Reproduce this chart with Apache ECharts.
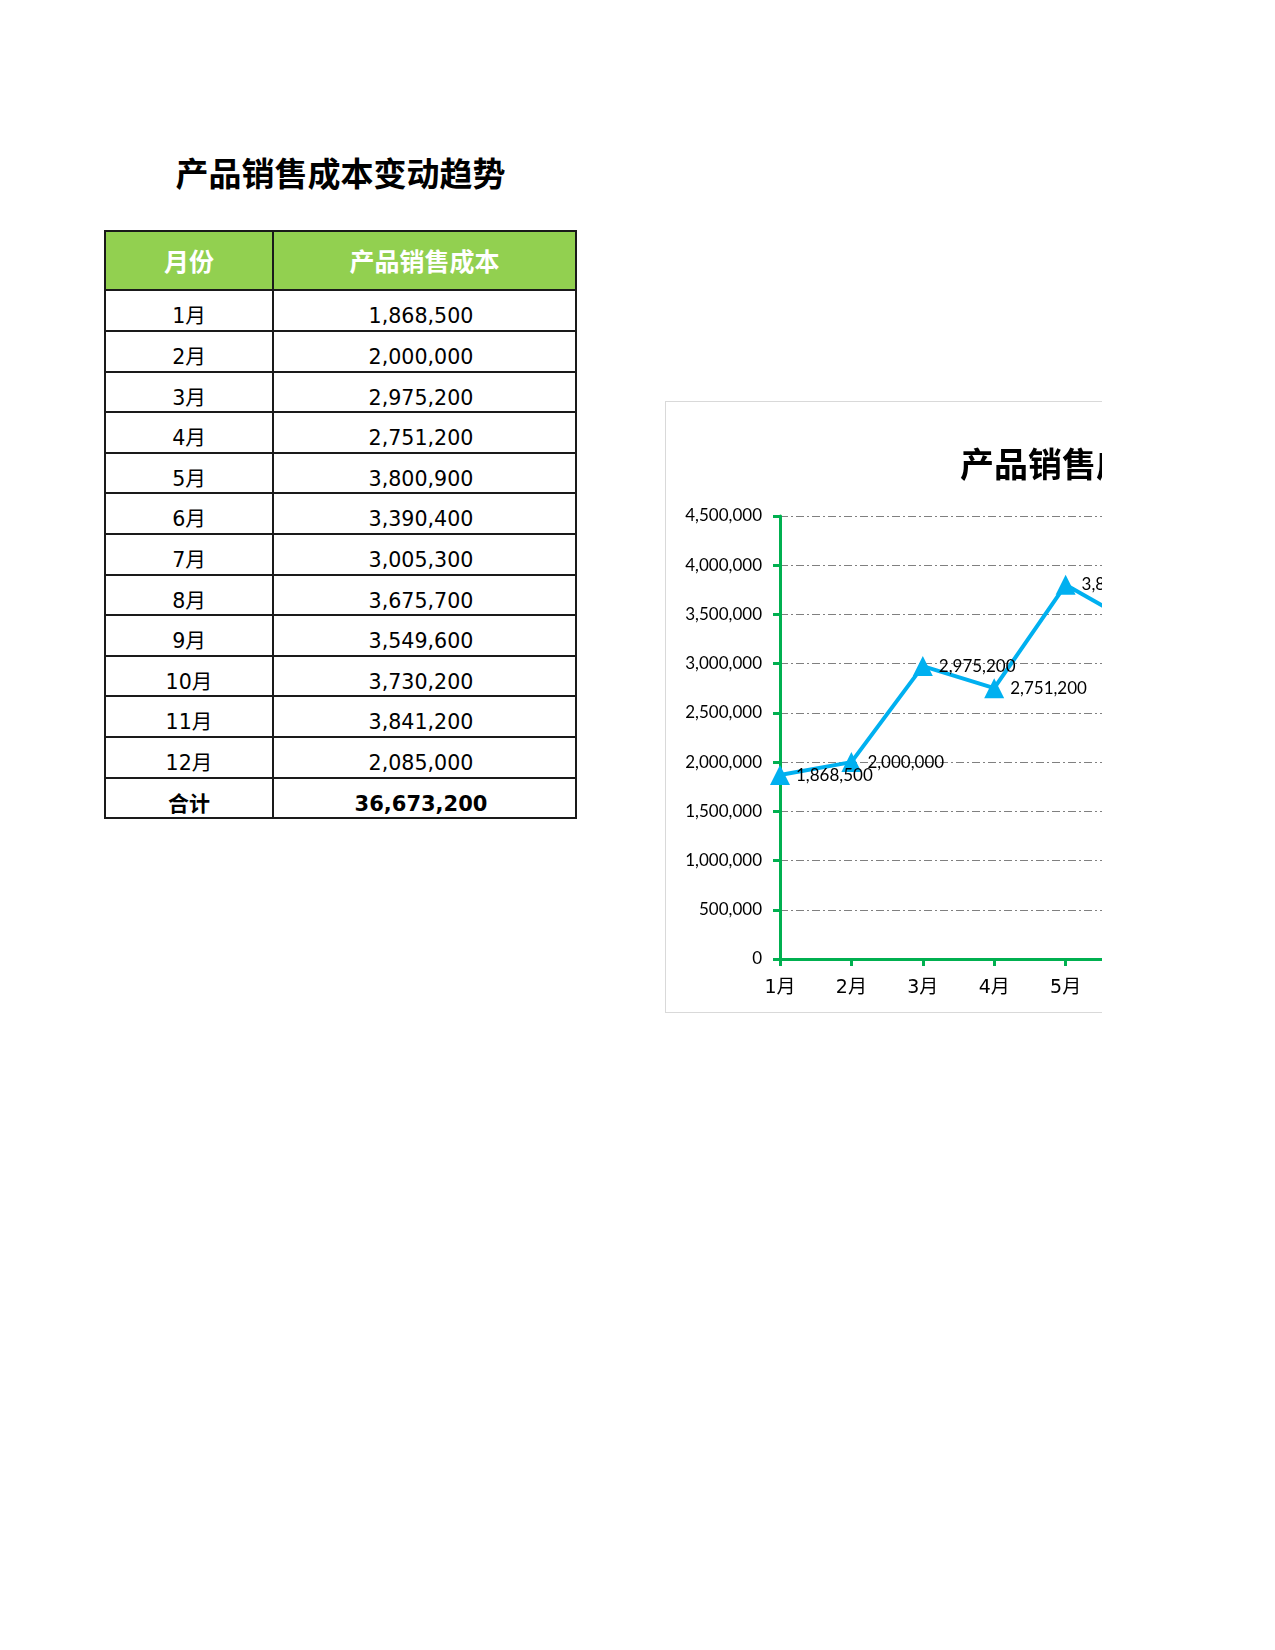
<!DOCTYPE html>
<html>
<head>
<meta charset="utf-8">
<script src="https://cdn.jsdelivr.net/npm/echarts@6/dist/echarts.min.js"></script>
<style>
  html, body { margin:0; padding:0; background:#fff; width:1275px; height:1650px; overflow:hidden; }
  #page { position:relative; width:1275px; height:1650px; }
  #title { position:absolute; left:105px; width:471px; top:149px; height:46px; line-height:46px; text-align:center;
           font-family:"Noto Sans CJK SC", sans-serif; font-weight:bold; font-size:33px; color:#000; }
  .cell { position:absolute; text-align:center; font-family:"DejaVu Sans","Noto Sans CJK SC",sans-serif; font-size:20.6px; color:#000; box-sizing:border-box; }
  .hdr { font-family:"Noto Sans CJK SC",sans-serif; font-weight:bold; font-size:25px; color:#fff; }
  .hl { position:absolute; background:#1a1a1a; }
  #chartWrap { position:absolute; left:665px; top:401px; width:436px; height:610px; overflow:hidden;
               border-left:1px solid #d9d9d9; border-top:1px solid #d9d9d9; border-bottom:1px solid #d9d9d9; }
  #chart { position:absolute; left:0; top:0; width:928px; height:610px; }
</style>
</head>
<body>
<div id="page">
  <div id="title">产品销售成本变动趋势</div>
  <div id="table"></div>
  <div id="chartWrap"><div id="chart"></div></div>
</div>
<script>
const months = ['1月','2月','3月','4月','5月','6月','7月','8月','9月','10月','11月','12月'];
const costs = [1868500, 2000000, 2975200, 2751200, 3800900, 3390400, 3005300, 3675700, 3549600, 3730200, 3841200, 2085000];
const headers = ['月份', '产品销售成本'];
const totalLabel = '合计';
const yTicks = [0, 500000, 1000000, 1500000, 2000000, 2500000, 3000000, 3500000, 4000000, 4500000];
const chartTitle = '产品销售成本变动趋势';

function fmt(v) { return String(v).replace(/\B(?=(\d{3})+(?!\d))/g, ','); }

// ---- table ----
(function buildTable() {
  const t = document.getElementById('table');
  const L = 105, M = 273, R = 576;
  const top = 231, hdrH = 59.3, rowH = 40.6;
  const rows = months.map((m, i) => [m, fmt(costs[i])]);
  const total = costs.reduce((a, b) => a + b, 0);
  rows.push([totalLabel, fmt(total)]);
  const bottom = top + hdrH + rows.length * rowH;
  const bg = document.createElement('div');
  bg.style.cssText = `position:absolute;left:${L}px;top:${top}px;width:${R-L}px;height:${hdrH}px;background:#92D050;`;
  t.appendChild(bg);
  [[L, M], [M, R]].forEach((c, j) => {
    const d = document.createElement('div');
    d.className = 'cell hdr';
    d.style.cssText += `left:${c[0]}px;width:${c[1]-c[0]}px;top:${top}px;height:${hdrH}px;line-height:${hdrH}px;`;
    d.textContent = headers[j];
    t.appendChild(d);
  });
  rows.forEach((r, i) => {
    const y = top + hdrH + i * rowH;
    [[L, M], [M, R]].forEach((c, j) => {
      const d = document.createElement('div');
      d.className = 'cell';
      d.style.cssText += `left:${c[0]}px;width:${c[1]-c[0]}px;top:${y + 6}px;height:${rowH}px;line-height:${rowH}px;` +
        (j === 1 ? 'padding-right:7px;' : '') +
        (i === rows.length - 1 ? 'font-weight:bold;font-size:21px;' : '');
      d.textContent = r[j];
      t.appendChild(d);
    });
  });
  const lw = 2;
  function hline(y) { const d = document.createElement('div'); d.className='hl';
    d.style.cssText += `left:${L-1}px;top:${y-1}px;width:${R-L+2}px;height:${lw}px;`; t.appendChild(d); }
  function vline(x) { const d = document.createElement('div'); d.className='hl';
    d.style.cssText += `left:${x-1}px;top:${top-1}px;width:${lw}px;height:${bottom-top+2}px;`; t.appendChild(d); }
  hline(top); hline(top + hdrH);
  for (let i = 1; i <= rows.length; i++) hline(top + hdrH + i * rowH);
  vline(L); vline(M); vline(R);
})();

// ---- chart ----
const chart = echarts.init(document.getElementById('chart'), null, { renderer: 'canvas' });
const green = '#00B050';
chart.setOption({
  animation: false,
  backgroundColor: '#fff',
  title: {
    text: chartTitle, left: 'center', top: 40,
    textStyle: { fontFamily: '"Noto Sans CJK SC", sans-serif', fontWeight: 'bold', fontSize: 34, color: '#000' }
  },
  grid: { left: 114, top: 114, right: 28.6, bottom: 53 },
  xAxis: {
    type: 'category', data: months, boundaryGap: false,
    axisLine: { lineStyle: { color: green, width: 3 } },
    axisTick: { show: true, length: 7, lineStyle: { color: green, width: 3 } },
    axisLabel: { margin: 20, fontSize: 19, color: '#000', fontFamily: '"DejaVu Sans","Noto Sans CJK SC",sans-serif' },
    splitLine: { show: false }
  },
  yAxis: {
    type: 'value', min: yTicks[0], max: yTicks[yTicks.length - 1], interval: yTicks[1] - yTicks[0],
    axisLine: { show: true, lineStyle: { color: green, width: 3 } },
    axisTick: { show: true, length: 7, lineStyle: { color: green, width: 3 } },
    axisLabel: { margin: 18, fontSize: 17, color: '#000', fontFamily: 'Lato, sans-serif', formatter: v => fmt(v) },
    splitLine: { show: true, lineStyle: { color: '#808080', width: 1, type: [8, 3, 2, 3] } }
  },
  series: [{
    type: 'line', data: costs,
    lineStyle: { color: '#00B0F0', width: 4 },
    itemStyle: { color: '#00B0F0' },
    symbol: 'triangle', symbolSize: 20, showSymbol: true,
    label: { show: true, position: 'right', distance: 6, fontSize: 17, color: '#000', fontFamily: 'Lato, sans-serif',
             formatter: p => fmt(p.value) },
    z: 3
  }]
});
</script>
</body>
</html>
